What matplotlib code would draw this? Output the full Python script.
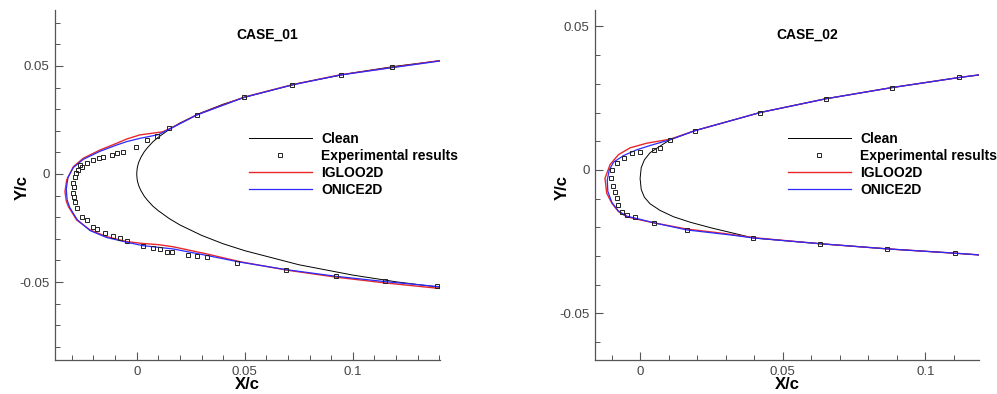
import matplotlib
matplotlib.use("Agg")
import matplotlib.pyplot as plt
from matplotlib.ticker import MultipleLocator, FixedLocator

plt.rcParams['font.family'] = ['Liberation Sans', 'DejaVu Sans']
plt.rcParams['axes.unicode_minus'] = False

# ---------------- CASE_01 data ----------------
c1_clean_x = [0.14, 0.12, 0.1, 0.075, 0.05, 0.04, 0.03, 0.02, 0.015, 0.01, 0.0075, 0.005, 0.0035,
              0.002, 0.001, 0.0005, 0.0002, 0.0,
              0.0002, 0.0005, 0.001, 0.002, 0.0035, 0.005, 0.0075, 0.01, 0.015, 0.02, 0.03,
              0.04, 0.05, 0.075, 0.1, 0.12, 0.14]
c1_clean_y = [0.0524, 0.0499, 0.0468, 0.0420, 0.0355, 0.0323, 0.0284, 0.0236, 0.0206, 0.0170,
              0.0149, 0.0122, 0.0103, 0.0078, 0.0056, 0.0039, 0.0025, 0.0,
              -0.0025, -0.0039, -0.0056, -0.0078, -0.0103, -0.0122, -0.0149, -0.0170, -0.0206,
              -0.0236, -0.0284, -0.0323, -0.0355, -0.0420, -0.0468, -0.0499, -0.0524]

c1_igloo_x = [0.1404, 0.118, 0.0941, 0.0719, 0.0498, 0.0278, 0.0154, 0.012, 0.0015, -0.0046,
              -0.0093, -0.017, -0.0247, -0.0293, -0.0324, -0.0332, -0.0326, -0.0316, -0.0278,
              -0.0216, -0.0139, -0.0046, 0.0031, 0.0100, 0.0169, 0.0324, 0.0478, 0.0694,
              0.0926, 0.1157, 0.1404]
c1_igloo_y = [0.0525, 0.0493, 0.0459, 0.0413, 0.0356, 0.0274, 0.0210, 0.0195, 0.0181, 0.0162,
              0.0142, 0.0111, 0.0073, 0.0034, -0.0028, -0.0082, -0.0125, -0.0151, -0.0213,
              -0.0259, -0.0290, -0.0313, -0.0322, -0.0327, -0.0337, -0.0370, -0.0406, -0.0445,
              -0.0478, -0.0505, -0.0530]

c1_onice_x = [0.1404, 0.118, 0.0941, 0.0719, 0.0498, 0.0278, 0.0154, 0.010, 0.0015, -0.0046,
              -0.0093, -0.017, -0.0247, -0.0293, -0.0318, -0.0326, -0.0322, -0.0310, -0.0275,
              -0.0216, -0.0139, -0.0046, 0.0031, 0.0169, 0.0324, 0.0478, 0.0694, 0.0926,
              0.1157, 0.1404]
c1_onice_y = [0.0523, 0.0492, 0.0458, 0.0412, 0.0355, 0.0273, 0.0209, 0.0182, 0.0165, 0.0150,
              0.0134, 0.0105, 0.0068, 0.0030, -0.0015, -0.0070, -0.0120, -0.0155, -0.0212,
              -0.0262, -0.0294, -0.0316, -0.0332, -0.0347, -0.0377, -0.0408, -0.0443, -0.0474,
              -0.0499, -0.0522]

c1_exp_x = [0.118, 0.0944, 0.0721, 0.0498, 0.0278, 0.0151, 0.0093, 0.0049, -0.0003, -0.0065,
            -0.0093, -0.0116, -0.0154, -0.0173, -0.0201, -0.0232, -0.0255, -0.0262, -0.027,
            -0.0281, -0.0286, -0.0293, -0.029, -0.0293, -0.029, -0.0285, -0.0278, -0.0255,
            -0.0232, -0.0201, -0.0185, -0.0147, -0.0108, -0.0077, -0.0046, 0.0031, 0.0077,
            0.0108, 0.0139, 0.0162, 0.0239, 0.0278, 0.0324, 0.0463, 0.0691, 0.0923, 0.115,
            0.1392]
c1_exp_y = [0.0497, 0.0458, 0.0412, 0.0355, 0.0273, 0.0211, 0.0176, 0.0157, 0.0126, 0.0103,
            0.0096, 0.0088, 0.0077, 0.0076, 0.0065, 0.0052, 0.0034, 0.0042, 0.0019,
            0.0003, -0.0012, -0.0043, -0.0060, -0.0089, -0.0105, -0.0128, -0.0159, -0.0198,
            -0.0213, -0.0244, -0.0256, -0.0273, -0.0287, -0.0298, -0.0308, -0.0332, -0.0341,
            -0.0349, -0.0360, -0.0361, -0.0375, -0.0380, -0.0386, -0.0411, -0.0444, -0.0472,
            -0.0495, -0.0519]

# ---------------- CASE_02 data ----------------
c2_clean_x = [0.1188, 0.1119, 0.0884, 0.0652, 0.0421, 0.0193, 0.0105, 0.007, 0.0035, 0.0015,
              0.0004, 0.0, 0.0004, 0.0015, 0.0035, 0.007, 0.0117, 0.0175, 0.025, 0.033,
              0.0397, 0.0631, 0.0867, 0.1104, 0.1188]
c2_clean_y = [0.0331, 0.0322, 0.0287, 0.0248, 0.0200, 0.0137, 0.0105, 0.0083, 0.0060, 0.0035,
              0.0008, -0.0030, -0.0068, -0.0095, -0.0118, -0.0141, -0.0163, -0.0182, -0.0202,
              -0.0221, -0.0237, -0.0257, -0.0275, -0.0290, -0.0296]

c2_igloo_x = [0.1188, 0.1119, 0.0884, 0.0652, 0.0421, 0.0193, 0.0105, 0.0023, -0.0035, -0.0076,
              -0.0105, -0.0123, -0.0117, -0.0099, -0.0076, -0.0047, 0.0, 0.0058, 0.0164, 0.030,
              0.0397, 0.0631, 0.0867, 0.1104, 0.1188]
c2_igloo_y = [0.0331, 0.0322, 0.0287, 0.0248, 0.0200, 0.0137, 0.0107, 0.0093, 0.0077, 0.0053,
              0.0019, -0.0029, -0.0081, -0.0116, -0.0145, -0.0163, -0.0174, -0.0186, -0.0206,
              -0.0222, -0.0236, -0.0257, -0.0275, -0.0290, -0.0296]

c2_onice_x = [0.1188, 0.1119, 0.0884, 0.0652, 0.0421, 0.0193, 0.0105, 0.0035, -0.0012, -0.0058,
              -0.0093, -0.0108, -0.0115, -0.0113, -0.0099, -0.0076, -0.0047, 0.0, 0.0047, 0.0164,
              0.033, 0.0397, 0.0631, 0.0867, 0.1104, 0.1188]
c2_onice_y = [0.0331, 0.0322, 0.0287, 0.0248, 0.0200, 0.0137, 0.0105, 0.0085, 0.0070, 0.0050,
              0.0027, 0.0, -0.0035, -0.0075, -0.0113, -0.0143, -0.0161, -0.0172, -0.0184, -0.0209,
              -0.0228, -0.0237, -0.0257, -0.0275, -0.0290, -0.0296]

c2_exp_x = [0.1119, 0.0884, 0.0652, 0.0421, 0.0193, 0.0105, 0.007, 0.0047, 0.0, -0.0029,
            -0.0058, -0.0082, -0.0099, -0.0103, -0.0096, -0.0088, -0.0082, -0.0076, -0.0064,
            -0.0047, -0.0018, 0.0047, 0.0164, 0.0397, 0.0631, 0.0867, 0.1104]
c2_exp_y = [0.0323, 0.0287, 0.0248, 0.0200, 0.0137, 0.0105, 0.0075, 0.0070, 0.0064, 0.0058,
            0.0041, 0.0023, 0.0, -0.0027, -0.0055, -0.0078, -0.0099, -0.0122, -0.0147,
            -0.0157, -0.0163, -0.0185, -0.0209, -0.0238, -0.0258, -0.0275, -0.0290]

labels = ['Clean', 'Experimental results', 'IGLOO2D', 'ONICE2D']

fig = plt.figure(figsize=(9.97, 3.94), dpi=100)

panels = [
    dict(rect=[0.0552, 0.0863, 0.3862, 0.8883], title='CASE_01',
         xlim=(-0.0378, 0.1404), ylim=(-0.0861, 0.0759),
         clean=(c1_clean_x, c1_clean_y), igloo=(c1_igloo_x, c1_igloo_y),
         onice=(c1_onice_x, c1_onice_y), exp=(c1_exp_x, c1_exp_y),
         leg=(249, 132)),
    dict(rect=[0.5968, 0.0863, 0.3852, 0.8883], title='CASE_02',
         xlim=(-0.0158, 0.1188), ylim=(-0.0662, 0.0557),
         clean=(c2_clean_x, c2_clean_y), igloo=(c2_igloo_x, c2_igloo_y),
         onice=(c2_onice_x, c2_onice_y), exp=(c2_exp_x, c2_exp_y),
         leg=(788, 132)),
]

for p in panels:
    ax = fig.add_axes(p['rect'])
    h1, = ax.plot(*p['clean'], color='black', lw=0.7)
    h3, = ax.plot(*p['igloo'], color='#e8282b', lw=1.0)
    h4, = ax.plot(*p['onice'], color='#2b2bff', lw=0.9)
    h2, = ax.plot(*p['exp'], ls='none', marker='s', ms=3.4, mfc='none',
                  mec='#222222', mew=0.7)

    ax.set_xlim(*p['xlim'])
    ax.set_ylim(*p['ylim'])

    for s in ['top', 'right']:
        ax.spines[s].set_visible(False)
    for s in ['left', 'bottom']:
        ax.spines[s].set_color('#555555')
        ax.spines[s].set_linewidth(0.9)

    ax.xaxis.set_major_locator(FixedLocator([0, 0.05, 0.1]))
    ax.yaxis.set_major_locator(FixedLocator([-0.05, 0, 0.05]))
    ax.set_xticklabels(['0', '0.05', '0.1'])
    ax.set_yticklabels(['-0.05', '0', '0.05'])
    ax.xaxis.set_minor_locator(MultipleLocator(0.01))
    ax.yaxis.set_minor_locator(MultipleLocator(0.01))
    ax.tick_params(which='major', direction='in', length=6, width=0.8,
                   color='#555555', labelsize=9.5, labelcolor='#444444', pad=4)
    ax.tick_params(which='minor', direction='in', length=3.6, width=0.7,
                   color='#555555')

    ax.set_xlabel('X/c', fontsize=12, fontweight='bold')
    ax.set_ylabel('Y/c', fontsize=12, fontweight='bold')
    ax.xaxis.set_label_coords(0.5, -0.049)
    ax.yaxis.set_label_coords(-0.066, 0.494)

    ax.text(0.552, 0.929, p['title'], transform=ax.transAxes, ha='center',
            va='center', fontsize=10, fontweight='bold')

    lx, ly = p['leg']
    ax.legend([h1, h2, h3, h4], labels, loc='upper left',
              bbox_to_anchor=(lx / 997, 1 - ly / 394),
              bbox_transform=fig.transFigure, frameon=False,
              borderpad=0, borderaxespad=0, handlelength=4.5,
              handletextpad=0.7, labelspacing=0.22, numpoints=1,
              prop={'size': 10, 'weight': 'bold'})

fig.savefig('out.png', dpi=100)
